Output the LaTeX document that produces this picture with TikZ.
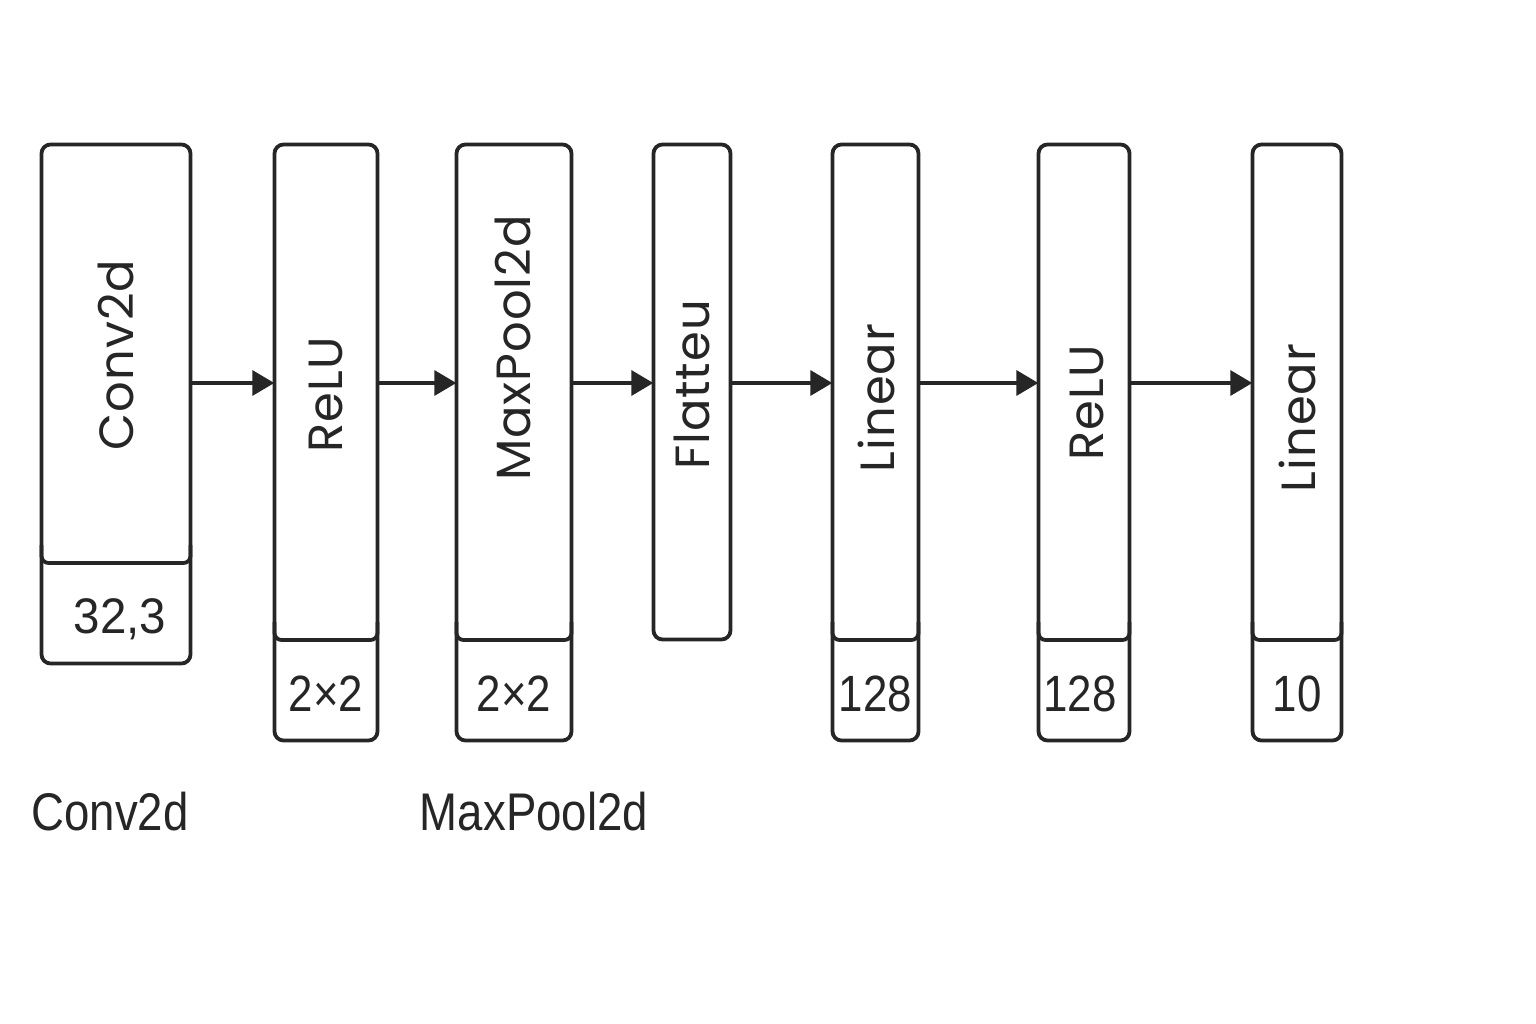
\documentclass[tikz,border=0pt]{standalone}
\usepackage{fontspec}
\setmainfont{Liberation Sans}
\newfontfamily\labfont[LetterSpace=2]{Poppins}
\newfontfamily\condfont[FakeStretch=0.86]{Liberation Sans}
\newfontfamily\numfont[FakeStretch=0.95]{Liberation Sans}
\usetikzlibrary{arrows.meta}
\definecolor{ink}{HTML}{262626}
\begin{document}
\begin{tikzpicture}[x=1pt,y=-1pt,
  box/.style={draw=ink, line width=3.8pt, rounded corners=9pt, inner sep=0pt, outer sep=0pt},
  divider/.style={draw=ink, line width=3.8pt, rounded corners=7pt},
  lab/.style={rotate=90, font=\labfont\fontsize{48}{54}\selectfont, text=ink, inner sep=0pt},
  num/.style={font=\condfont\fontsize{51}{58}\selectfont, text=ink, inner sep=0pt, anchor=base},
  captxt/.style={font=\condfont\fontsize{53}{60}\selectfont, text=ink, inner sep=0pt, anchor=base},
  arr/.style={draw=ink, line width=3.6pt, -{Triangle[length=22pt,width=25pt]}, shorten >=0.2pt, shorten <=1.9pt},
]
\useasboundingbox[fill=white] (0,0) rectangle (1536,1024);

% boxes
\node[box, minimum width=149pt, minimum height=519pt] (b1) at (116,404) {};
\node[box, minimum width=103pt, minimum height=596pt] (b2) at (326,442.5) {};
\node[box, minimum width=115pt, minimum height=596pt] (b3) at (514,442.5) {};
\node[box, minimum width=77pt,  minimum height=495pt] (b4) at (692,392) {};
\node[box, minimum width=86pt,  minimum height=596pt] (b5) at (875.5,442.5) {};
\node[box, minimum width=91pt,  minimum height=596pt] (b6) at (1084,442.5) {};
\node[box, minimum width=89pt,  minimum height=596pt] (b7) at (1297,442.5) {};

% dividers
\draw[divider] (b1.west |- 0,545) |- (b1.east |- 0,563) -- (b1.east |- 0,545);
\foreach \b in {b2,b3,b5,b6,b7}
  \draw[divider] (\b.west |- 0,622) |- (\b.east |- 0,640) -- (\b.east |- 0,622);

% rotated labels
\node[lab] (t1) at (116,355) {Conv2d};
\node[lab] (t2) at (326,395) {ReLU};
\node[lab] (t3) at (513,348) {MaxPool2d};
\node[lab] (t4) at (692,385) {Flatteu};
\node[lab] (t5) at (876,398) {Linear};
\node[lab] (t6) at (1087,403) {ReLU};
\node[lab] (t7) at (1297,418) {Linear};

% numbers
\node[num, font=\numfont\fontsize{50}{58}\selectfont] (n1) at (120,633) {32,3};
\node[num] (n2) at (326,711) {2×2};
\node[num] (n3) at (514,711) {2×2};
\node[num] (n5) at (875.5,711) {128};
\node[num] (n6) at (1080,711) {128};
\node[num] (n7) at (1297,711) {10};

% captions
\node[captxt] (c1) at (110,830) {Conv2d};
\node[captxt] (c3) at (534,830) {MaxPool2d};

% arrows
\draw[arr] (b1.east |- 0,383) -- (b2.west |- 0,383);
\draw[arr] (b2.east |- 0,383) -- (b3.west |- 0,383);
\draw[arr] (b3.east |- 0,383) -- (b4.west |- 0,383);
\draw[arr] (b4.east |- 0,383) -- (b5.west |- 0,383);
\draw[arr] (b5.east |- 0,383) -- (b6.west |- 0,383);
\draw[arr] (b6.east |- 0,383) -- (b7.west |- 0,383);
\end{tikzpicture}
\end{document}
